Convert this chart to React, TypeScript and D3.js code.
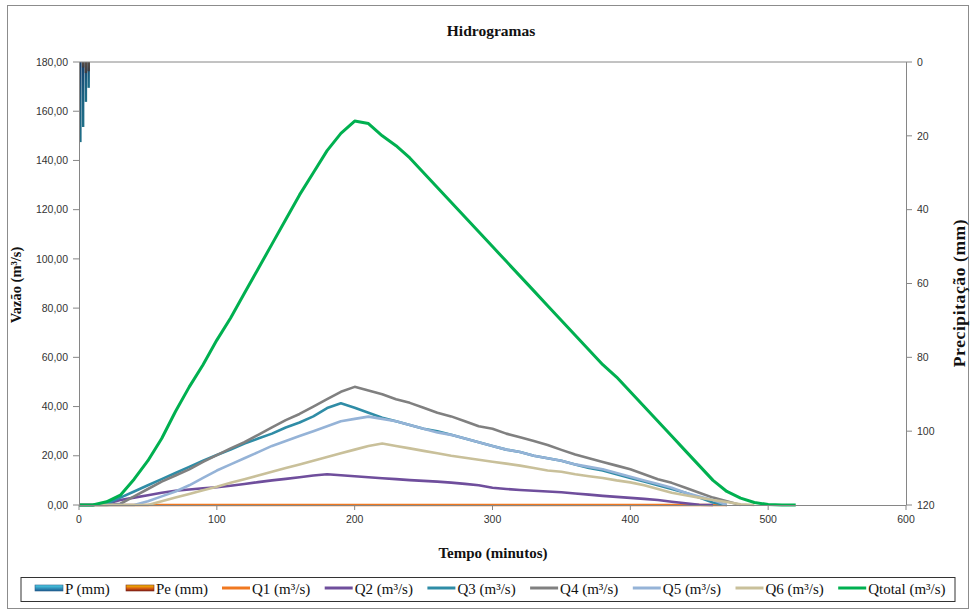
import React from "react";
import * as d3 from "d3";

// Time axis (minutes), 10-minute steps for the hydrographs
const times = [0, 10, 20, 30, 40, 50, 60, 70, 80, 90, 100, 110, 120, 130, 140, 150, 160, 170, 180, 190, 200,
  210, 220, 230, 240, 250, 260, 270, 280, 290, 300, 310, 320, 330, 340, 350, 360, 370, 380, 390, 400,
  410, 420, 430, 440, 450, 460, 470, 480, 490, 500, 510, 520];

// Discharge series (m³/s)
const q1 = [0, 0, 0, 0, 0, 0, 0, 0, 0, 0, 0, 0, 0, 0, 0, 0, 0, 0, 0, 0, 0,
  0, 0, 0, 0, 0, 0, 0, 0, 0, 0, 0, 0, 0, 0, 0, 0, 0, 0, 0, 0,
  0, 0, 0, 0, 0, 0, 0];
const q2 = [0, 0, 0.5, 2, 3, 4, 5, 5.8, 6.3, 6.8, 7.2, 7.8, 8.5, 9.3, 10, 10.6, 11.3, 12, 12.5, 12.1, 11.7,
  11.3, 10.9, 10.5, 10.1, 9.8, 9.5, 9.1, 8.6, 8, 7, 6.5, 6.1, 5.8, 5.5, 5.2, 4.7, 4.2, 3.7, 3.3, 2.9,
  2.5, 2, 1.3, 0.7, 0.1, 0];
const q3 = [0, 0, 0.5, 3, 5.5, 8, 10.5, 13, 15.5, 18, 20.3, 22.5, 25, 27, 29, 31.5, 33.5, 36, 39.4, 41.3, 39.5,
  37.5, 35.5, 34, 32.5, 31, 30, 28.5, 27, 25.5, 24, 22.5, 21.5, 20, 19, 18, 16.5, 15, 14, 12.5, 11,
  9.5, 8, 6.5, 5, 3, 1, 0];
const q4 = [0, 0, 0, 0.5, 3.5, 6.5, 9.5, 12, 14.5, 17.5, 20.3, 23, 25.5, 28.5, 31.5, 34.5, 37, 40, 43, 46, 48,
  46.5, 45, 43, 41.5, 39.5, 37.5, 36, 34, 32, 31, 29, 27.5, 26, 24.4, 22.4, 20.5, 19, 17.5, 16, 14.5,
  12.5, 10.5, 9, 7, 5, 3, 1.5, 0];
const q5 = [0, 0, 0, 0, 0, 1.5, 3.5, 5.5, 8, 11, 14, 16.5, 19, 21.5, 24, 26, 28, 30, 32, 34, 35,
  35.9, 35, 34, 32.5, 31, 29.5, 28.5, 27, 25.5, 24, 22.5, 21.5, 20, 19, 18, 16.5, 15.5, 14.5, 13, 11.5,
  10, 8.5, 7, 5, 3.5, 2, 0];
const q6 = [0, 0, 0, 0, 0, 0, 1.5, 3, 4.5, 6, 7.4, 9, 10.5, 12, 13.5, 15, 16.5, 18, 19.5, 21, 22.5,
  24, 25, 24, 23, 22, 21, 20, 19.2, 18.4, 17.6, 16.8, 16, 15, 14, 13.5, 12.5, 11.7, 11, 10, 9.2,
  8, 6.5, 5, 4, 3, 2, 1.2, 0.3, 0];
const qTotal = [0, 0, 1.3, 4, 10.5, 18, 27, 38, 48, 57, 67, 76, 86, 96, 106, 116, 126, 135, 144, 151, 156,
  155, 150, 146, 141, 135, 129, 123, 117, 111, 105, 99, 93, 87, 81, 75, 69, 63, 57, 52, 46,
  40, 34, 28, 22, 16, 10, 5.5, 2.8, 1, 0.2, 0, 0];

// Rainfall hyetograph (mm), hanging from the top axis
const rainTimes = [1, 3, 5, 7];
const pValues = [21.7, 17.6, 10.8, 7.0];
const peValues = [0, 1.5, 3, 2.5];

const xTicks = [0, 100, 200, 300, 400, 500, 600];
const yTicks = [0, 20, 40, 60, 80, 100, 120, 140, 160, 180];
const precipTicks = [0, 20, 40, 60, 80, 100, 120];

const seriesNames = ["Q1 (m³/s)", "Q2 (m³/s)", "Q3 (m³/s)", "Q4 (m³/s)", "Q5 (m³/s)", "Q6 (m³/s)", "Qtotal (m³/s)"];
const seriesColors = ["#f07820", "#6f4e9c", "#2f8ca6", "#808080", "#95b3d7", "#c9c09a", "#00b050"];
const seriesData = [q1, q2, q3, q4, q5, q6, qTotal];

const W = 974;
const H = 610;

export default function App() {
  const x = d3.scaleLinear().domain([0, 600]).range([79, 906]);
  const y = d3.scaleLinear().domain([0, 180]).range([505, 62]);
  const yP = d3.scaleLinear().domain([0, 120]).range([62, 505]);

  const fmt = (v: number) => v.toFixed(2).replace(".", ",");
  const axisColor = "#868686";
  const tickFont = "'Liberation Sans', Arial, sans-serif";
  const serif = "'Liberation Serif', 'Times New Roman', serif";

  const barW = x(2) - x(0) - 0.3;

  const legendItems: { label: string; kind: "bar" | "line"; color: string; x: number }[] = [
    { label: "P (mm)", kind: "bar", color: "#2aa8c8", x: 35 },
    { label: "Pe (mm)", kind: "bar", color: "#c0392b", x: 126 },
    ...seriesNames.map((n, i) => ({ label: n, kind: "line" as const, color: seriesColors[i], x: 222 + i * 102.7 })),
  ];

  return (
    <svg width={W} height={H} style={{ position: "absolute", left: 0, top: 0, background: "#fff" }}>
      <defs>
        <linearGradient id="gP" x1="0" y1="0" x2="0" y2="1">
          <stop offset="0" stopColor="#17406e" />
          <stop offset="0.5" stopColor="#1b5f80" />
          <stop offset="1" stopColor="#1f6f88" />
        </linearGradient>
        <linearGradient id="gPe" x1="0" y1="0" x2="0" y2="1">
          <stop offset="0" stopColor="#5a5048" />
          <stop offset="1" stopColor="#3c3a40" />
        </linearGradient>
        <linearGradient id="gPLeg" x1="0" y1="0" x2="0" y2="1">
          <stop offset="0" stopColor="#4fd2ea" />
          <stop offset="1" stopColor="#1a5c92" />
        </linearGradient>
        <linearGradient id="gPeLeg" x1="0" y1="0" x2="0" y2="1">
          <stop offset="0" stopColor="#f5c400" />
          <stop offset="0.5" stopColor="#e06a10" />
          <stop offset="1" stopColor="#8a1a12" />
        </linearGradient>
      </defs>

      {/* chart frame */}
      <rect x={7.5} y={5.5} width={961} height={603} fill="#fff" stroke="#8c8c8c" strokeWidth={1} />

      {/* title */}
      <text x={491} y={36} textAnchor="middle" fontFamily={serif} fontWeight="bold" fontSize={15.5} fill="#111">
        Hidrogramas
      </text>

      {/* rainfall bars */}
      {rainTimes.map((t, i) => (
        <rect key={"p" + i} x={x(t) - barW / 2} y={yP(0)} width={barW} height={yP(pValues[i]) - yP(0)} fill="url(#gP)" />
      ))}
      {rainTimes.map((t, i) =>
        peValues[i] > 0 ? (
          <rect key={"pe" + i} x={x(t) - barW / 2} y={yP(0)} width={barW} height={yP(peValues[i]) - yP(0)} fill="url(#gPe)" />
        ) : null
      )}

      {/* hydrograph lines */}
      {seriesData.map((vals, si) => {
        const pts = vals.map((v, i) => [times[i], v] as [number, number]);
        const line = d3
          .line<[number, number]>()
          .x((d) => x(d[0]))
          .y((d) => y(d[1]));
        return (
          <path
            key={"s" + si}
            d={line(pts) || ""}
            fill="none"
            stroke={seriesColors[si]}
            strokeWidth={si === 6 ? 3 : 2.6}
            strokeLinejoin="round"
          />
        );
      })}

      {/* top secondary axis line */}
      <line x1={79} x2={906} y1={62} y2={62} stroke={axisColor} />

      {/* x axis */}
      <line x1={79} x2={906} y1={505.5} y2={505.5} stroke={axisColor} />
      {xTicks.map((t) => (
        <g key={"xt" + t}>
          <line x1={x(t)} x2={x(t)} y1={505} y2={510} stroke={axisColor} />
          <text x={x(t)} y={523} textAnchor="middle" fontFamily={tickFont} fontSize={10.5} fill="#333">
            {t}
          </text>
        </g>
      ))}

      {/* left axis */}
      <line x1={79.5} x2={79.5} y1={62} y2={505} stroke={axisColor} />
      {yTicks.map((v) => (
        <g key={"yt" + v}>
          <line x1={73} x2={79} y1={y(v)} y2={y(v)} stroke={axisColor} />
          <text x={68} y={y(v) + 3.7} textAnchor="end" fontFamily={tickFont} fontSize={10.5} fill="#333">
            {fmt(v)}
          </text>
        </g>
      ))}

      {/* right axis */}
      <line x1={906.5} x2={906.5} y1={62} y2={505} stroke={axisColor} />
      {precipTicks.map((v) => (
        <g key={"pt" + v}>
          <line x1={906} x2={912} y1={yP(v)} y2={yP(v)} stroke={axisColor} />
          <text x={917} y={yP(v) + 3.7} textAnchor="start" fontFamily={tickFont} fontSize={10.5} fill="#333">
            {v}
          </text>
        </g>
      ))}

      {/* axis titles */}
      <text x={493} y={558} textAnchor="middle" fontFamily={serif} fontWeight="bold" fontSize={15} fill="#111">
        Tempo (minutos)
      </text>
      <text
        transform="translate(21,285) rotate(-90)"
        textAnchor="middle"
        fontFamily={serif}
        fontWeight="bold"
        fontSize={14.5}
        fill="#111"
      >
        Vazão (m³/s)
      </text>
      <text
        transform="translate(965,293) rotate(-90)"
        textAnchor="middle"
        fontFamily={serif}
        fontWeight="bold"
        fontSize={17.5}
        letterSpacing={0.6}
        fill="#111"
      >
        Precipitação (mm)
      </text>

      {/* legend */}
      <rect x={21} y={577.5} width={934} height={24} fill="#fff" stroke="#333" strokeWidth={1} />
      {legendItems.map((it, i) => (
        <g key={"lg" + i}>
          {it.kind === "bar" ? (
            <rect x={it.x} y={585} width={28} height={6} fill={i === 0 ? "url(#gPLeg)" : "url(#gPeLeg)"} stroke={i === 0 ? "#2b5f8a" : "#7a2a1a"} strokeWidth={0.6} />
          ) : (
            <line x1={it.x} x2={it.x + 28} y1={588} y2={588} stroke={it.color} strokeWidth={3} />
          )}
          <text x={it.x + 30} y={593.5} fontFamily={serif} fontSize={15} fill="#111">
            {it.label}
          </text>
        </g>
      ))}
    </svg>
  );
}
